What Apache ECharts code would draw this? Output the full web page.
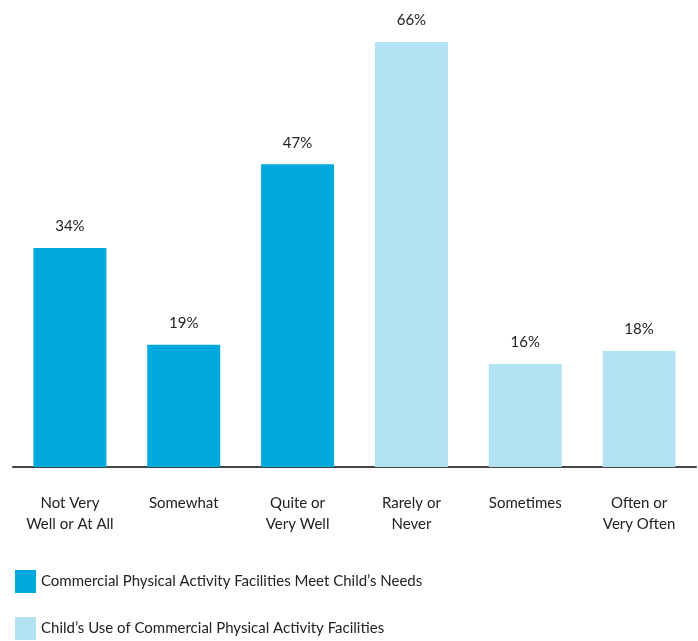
<!DOCTYPE html>
<html><head><meta charset="utf-8">
<script src="https://cdn.jsdelivr.net/npm/echarts@6/dist/echarts.min.js"></script>
<style>html,body{margin:0;padding:0;background:#fff}#c{width:698px;height:641px}</style>
</head><body><div id="c"></div>
<script>
const categories = ['Not Very\nWell or At All', 'Somewhat', 'Quite or\nVery Well', 'Rarely or\nNever', 'Sometimes', 'Often or\nVery Often'];
const seriesNames = ['Commercial Physical Activity Facilities Meet Child’s Needs', 'Child’s Use of Commercial Physical Activity Facilities'];
const needsValues = [34, 19, 47, null, null, null];
const useValues = [null, null, null, 66, 16, 18];
const colors = ['#00a9dd', '#b3e3f3'];

const chart = echarts.init(document.getElementById('c'));
const font = 'Lato, "Open Sans", sans-serif';
const lbl = {show: true, position: 'top', distance: 14, formatter: '{c}%', color: '#222', fontSize: 15, fontFamily: font};
const legendBase = {orient: 'vertical', left: 10, itemWidth: 21, itemHeight: 23, icon: 'rect',
  textStyle: {fontSize: 15, color: '#222', fontFamily: font, padding: [4, 0, 0, 0]}};
chart.setOption({
  animation: false,
  grid: {left: 13, right: 2, top: 42, bottom: 174},
  xAxis: {type: 'category', data: categories,
    axisLine: {lineStyle: {color: '#444', width: 2}}, axisTick: {show: false},
    axisLabel: {color: '#222', fontSize: 15, lineHeight: 21, margin: 26, fontFamily: font, interval: 0}},
  yAxis: {type: 'value', min: 0, max: 66, show: false, splitLine: {show: false}},
  legend: [
    Object.assign({}, legendBase, {top: 565, data: [seriesNames[0]]}),
    Object.assign({}, legendBase, {top: 612, data: [seriesNames[1]]})
  ],
  series: [
    {name: seriesNames[0], type: 'bar', data: needsValues, barWidth: 73, barGap: '-100%', itemStyle: {color: colors[0]}, label: lbl},
    {name: seriesNames[1], type: 'bar', data: useValues, barWidth: 73, itemStyle: {color: colors[1]}, label: lbl}
  ]
});
</script></body></html>
